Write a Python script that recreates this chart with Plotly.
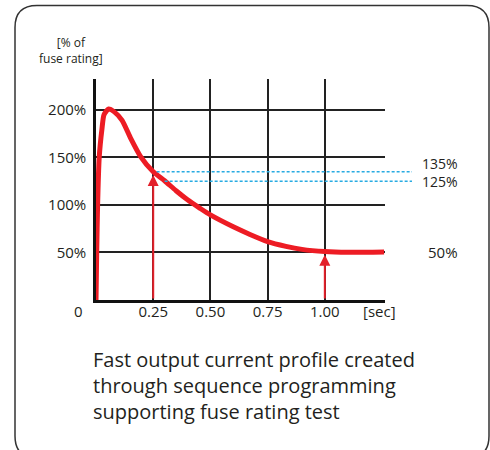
import plotly.graph_objects as go

# ---------------- data ----------------
time_s = [0, 0.003, 0.007, 0.014, 0.026, 0.035, 0.055, 0.08, 0.114, 0.15, 0.195,
          0.25, 0.30, 0.35, 0.40, 0.455, 0.5, 0.6, 0.673, 0.75, 0.83, 0.9, 1.0, 1.1, 1.259]
current_pct = [0, 50, 100, 150, 180, 195, 201, 198, 189, 171, 151,
               135, 125.5, 115, 105.5, 96.5, 89.5, 77, 69, 61.5, 56.5, 53.3, 51, 50.2, 50.5]

x_tick_vals = [0.25, 0.50, 0.75, 1.00]
x_tick_text = ["0.25", "0.50", "0.75", "1.00"]
y_tick_vals = [50, 100, 150, 200]
y_tick_text = ["50%", "100%", "150%", "200%"]

ref_levels = [135, 125]          # dashed reference levels
ref_starts = [0.265, 0.30]       # where dashed lines start (sec)
ref_end = 1.381
ref_labels = ["135%", "125%"]
arrow_times = [0.25, 1.00]
arrow_tips = [131.5, 47.5]
final_label = "50%"
final_level = 50

caption_lines = ["Fast output current profile created",
                 "through sequence programming",
                 "supporting fuse rating test"]

RED = "#ed1c24"
BLUE = "#29abe2"
TXT = "#231f20"
FONT = "Open Sans"

# layout geometry (pixels)
W, H = 490, 450
ML, MR, MT, MB = 96, 78, 79, 150
PW = W - ML - MR
PH = H - MT - MB
main_dom = (385 - ML) / PW
X_MAX = 1.263
Y_MAX = 232.6


def px_x(px):
    return (px - ML) / PW


def px_y(py):
    return (H - MB - py) / PH


fig = go.Figure()

# dashed reference lines (on the wider overlay subplot)
for lvl, x0 in zip(ref_levels, ref_starts):
    fig.add_trace(go.Scatter(x=[x0, ref_end], y=[lvl, lvl], mode="lines",
                             line=dict(color=BLUE, width=1.5, dash="3px,2px"),
                             xaxis="x2", yaxis="y2", hoverinfo="skip", showlegend=False))

# main curve
fig.add_trace(go.Scatter(x=time_s, y=current_pct, mode="lines",
                         line=dict(color=RED, width=5, shape="spline", smoothing=0.6),
                         cliponaxis=False, showlegend=False))

fig.update_layout(
    width=W, height=H,
    margin=dict(l=ML, r=MR, t=MT, b=MB),
    paper_bgcolor="white", plot_bgcolor="rgba(0,0,0,0)",
    font=dict(family=FONT, color=TXT, size=15),
    xaxis=dict(domain=[0, main_dom], range=[0, X_MAX], tickvals=x_tick_vals, ticktext=x_tick_text,
               showgrid=True, gridcolor="#222", gridwidth=1.5, zeroline=False,
               showline=True, linecolor="#111", linewidth=3,
               ticks="", ticklabelstandoff=-4,
               tickfont=dict(size=15, color=TXT, family=FONT), fixedrange=True),
    yaxis=dict(range=[0, Y_MAX], tickvals=y_tick_vals, ticktext=y_tick_text,
               showgrid=True, gridcolor="#222", gridwidth=1.5, zeroline=False,
               showline=True, linecolor="#111", linewidth=2.5,
               ticks="outside", ticklen=4, tickcolor="rgba(0,0,0,0)",
               tickfont=dict(size=15, color=TXT, family=FONT), fixedrange=True),
    xaxis2=dict(domain=[0, 1], range=[0, X_MAX / main_dom], anchor="y2", visible=False,
                showgrid=False, zeroline=False, fixedrange=True),
    yaxis2=dict(domain=[0, 1], range=[0, Y_MAX], anchor="x2", visible=False,
                showgrid=False, zeroline=False, fixedrange=True),
)

ann = []
# arrows
for t, tip in zip(arrow_times, arrow_tips):
    ann.append(dict(x=t, y=tip, ax=t, ay=0, xref="x", yref="y", axref="x", ayref="y",
                    showarrow=True, arrowhead=2, arrowsize=1.1, arrowwidth=2,
                    arrowcolor="#e3202a", text=""))
# reference labels (stacked in one text block)
ann.append(dict(x=px_x(460), y=px_y(172.5), xref="paper", yref="paper",
                text="<br>".join(ref_labels), showarrow=False,
                xanchor="right", yanchor="middle", align="right",
                font=dict(size=14, color=TXT, family=FONT)))
ann.append(dict(x=px_x(460), y=final_level, xref="paper", yref="y", text=final_label,
                showarrow=False, xanchor="right", yanchor="middle",
                font=dict(size=15, color=TXT, family=FONT)))
# origin label and unit label
ann.append(dict(x=0, y=0, xref="x", yref="y", text="0", showarrow=False,
                xanchor="center", yanchor="middle", xshift=-18, yshift=-11,
                font=dict(size=15, color=TXT, family=FONT)))
ann.append(dict(x=1.241, y=0, xref="x", yref="y", text="[sec]", showarrow=False,
                xanchor="center", yanchor="middle", yshift=-11,
                font=dict(size=15, color=TXT, family=FONT)))
# y axis title
ann.append(dict(x=px_x(71), y=px_y(50.5), xref="paper", yref="paper",
                text="[% of<br>fuse rating]", showarrow=False,
                xanchor="center", yanchor="middle", align="center",
                font=dict(size=12, color=TXT, family=FONT)))
# caption
ann.append(dict(x=px_x(91), y=px_y(385), xref="paper", yref="paper",
                text="<br>".join(caption_lines), showarrow=False,
                xanchor="left", yanchor="middle", align="left",
                font=dict(size=20, color=TXT, family=FONT)))
fig.update_layout(annotations=ann)

# rounded border frame
L, R, T, B, r = 15, 489, 5.5, 458, 22
path = (f"M {px_x(L)},{px_y(T + r)} "
        f"Q {px_x(L)},{px_y(T)} {px_x(L + r)},{px_y(T)} "
        f"L {px_x(R - r)},{px_y(T)} "
        f"Q {px_x(R)},{px_y(T)} {px_x(R)},{px_y(T + r)} "
        f"L {px_x(R)},{px_y(B - r)} "
        f"Q {px_x(R)},{px_y(B)} {px_x(R - r)},{px_y(B)} "
        f"L {px_x(L + r)},{px_y(B)} "
        f"Q {px_x(L)},{px_y(B)} {px_x(L)},{px_y(B - r)} Z")
fig.add_shape(type="path", path=path, xref="paper", yref="paper",
              line=dict(color="#333", width=1.5), fillcolor="rgba(0,0,0,0)", layer="above")

fig.write_html("out.html", config={"displayModeBar": False},
               post_script="document.body.style.margin='0px';")
